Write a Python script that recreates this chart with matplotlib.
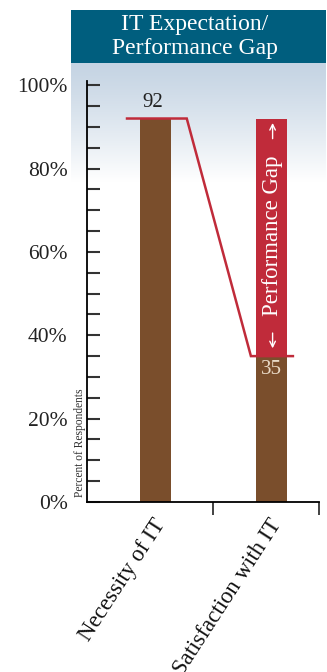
import numpy as np
import matplotlib
matplotlib.use("Agg")
import matplotlib.pyplot as plt

# Survey results
categories = ["Necessity of IT", "Satisfaction with IT"]
values = [92, 35]
title_lines = ["IT Expectation/", "Performance Gap"]
y_ticks = [0, 20, 40, 60, 80, 100]
y_tick_labels = ["0%", "20%", "40%", "60%", "80%", "100%"]
y_label = "Percent of Respondents"
gap_label = "Performance Gap"

BROWN = "#7A4E2C"
RED = "#C02B3A"
TEAL = "#005E7E"
FONT = "Liberation Serif"

W, H = 327, 672
fig = plt.figure(figsize=(W / 100, H / 100), dpi=100)

# Light blue gradient band behind the top of the plot
bg = fig.add_axes([71 / W, 1 - 182 / H, 255 / W, 120 / H])
grad = np.linspace(0, 1, 256).reshape(-1, 1)
top_c = np.array([0.77, 0.83, 0.89])
bot_c = np.array([1.0, 1.0, 1.0])
img = top_c + (bot_c - top_c) * grad[..., None] ** 1.2
bg.imshow(img, aspect="auto", extent=[0, 1, 0, 1])
bg.set_axis_off()

# Title banner
tb = fig.add_axes([71 / W, 1 - 63 / H, 255 / W, 53 / H])
tb.set_facecolor(TEAL)
tb.set_xticks([])
tb.set_yticks([])
for s in tb.spines.values():
    s.set_visible(False)
tb.text(0.485, 0.72, title_lines[0], color="white", fontsize=17, family=FONT,
        ha="center", va="center", transform=tb.transAxes)
tb.text(0.485, 0.28, title_lines[1], color="white", fontsize=17, family=FONT,
        ha="center", va="center", transform=tb.transAxes)

# Main chart
ax = fig.add_axes([87 / W, 1 - 502 / H, 232 / W, 421 / H])
ax.patch.set_alpha(0)
x = np.arange(len(categories))
bw = 0.27
ax.bar(x, values, width=bw, color=BROWN, zorder=2)

# Gap bar stacked on the second bar
gap = values[0] - values[1]
ax.bar(x[1], gap, bottom=values[1], width=bw, color=RED, zorder=2)

# Connector line between the two levels
lx = [x[0] - 0.245, x[0] + 0.27, x[1] - 0.177, x[1] + 0.185]
ly = [values[0], values[0], values[1], values[1]]
ax.plot(lx, ly, color=RED, lw=1.8, zorder=3, solid_joinstyle="miter")

# Value labels
ax.text(x[0] - 0.02, values[0] + 1.6, str(values[0]), ha="center", va="bottom",
        fontsize=15, family=FONT, color="#222222")
ax.text(x[1], values[1] - 3.3, str(values[1]), ha="center", va="center",
        fontsize=15, family=FONT, color="#EADBC8", zorder=4)

# Gap label with arrows
mid = values[1] + gap / 2 + 0.3
ax.text(x[1] + 0.01, mid, gap_label, rotation=90, ha="center", va="center",
        fontsize=16.5, family=FONT, color="white", zorder=4)
ax.annotate("", xy=(x[1] + 0.01, values[0] - 0.4), xytext=(x[1] + 0.01, values[0] - 5.5),
            arrowprops=dict(arrowstyle="->", color="white", lw=1.0), zorder=4)
ax.annotate("", xy=(x[1] + 0.01, values[1] + 1.2), xytext=(x[1] + 0.01, values[1] + 6.2),
            arrowprops=dict(arrowstyle="->", color="white", lw=1.0), zorder=4)

ax.set_xlim(-0.59, 1.41)
ax.set_ylim(0, 101)

ax.spines["top"].set_visible(False)
ax.spines["right"].set_visible(False)
ax.spines["left"].set_linewidth(1.3)
ax.spines["bottom"].set_linewidth(1.3)

ax.set_yticks(y_ticks)
ax.set_yticklabels(y_tick_labels, fontsize=15.5, family=FONT, color="#222222")
ax.set_yticks(np.arange(0, 101, 5), minor=True)
ax.tick_params(axis="y", which="both", direction="in", length=9.5, width=1.5,
               color="#333333", pad=14)

# Category boundary ticks, labels at bar centres
ax.set_xticks([0.5, 1.41])
ax.set_xticklabels([])
ax.tick_params(axis="x", which="major", direction="out", length=9, width=1.3,
               color="#333333")
for xi, lab in zip(x, categories):
    ax.text(xi - 0.03, -3.2, lab, rotation=57, ha="right", va="top",
            rotation_mode="anchor", fontsize=16.5, family=FONT, color="#111111",
            clip_on=False)

fig.text(80 / W, 1 - 497 / H, y_label, rotation=90, ha="center", va="bottom",
         fontsize=8.3, family=FONT, color="#333333")

fig.savefig("out.png", dpi=100)
